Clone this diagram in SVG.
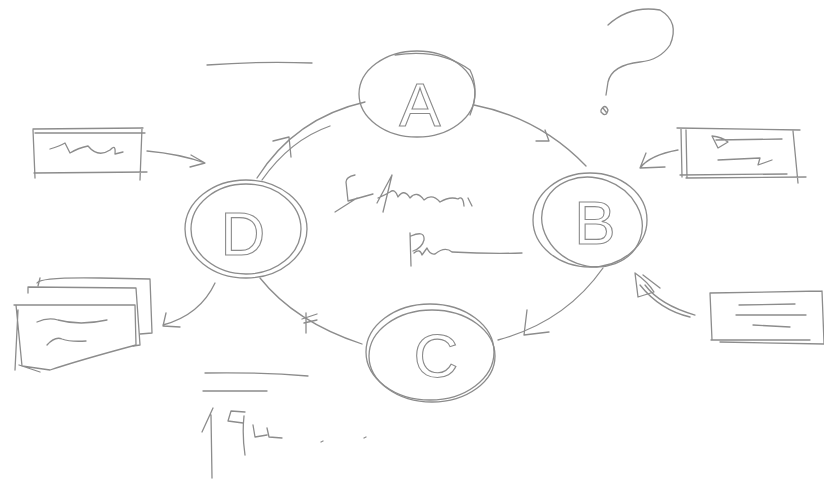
<svg xmlns="http://www.w3.org/2000/svg" width="824" height="481" viewBox="0 0 824 481">
<style>
.s{fill:none;stroke:#8c8c8c;stroke-width:1.3;stroke-linecap:round;stroke-linejoin:round}
.t{fill:none;stroke:#8c8c8c;stroke-width:1.1;font-family:"Liberation Sans",Arial,sans-serif;font-size:62px;text-anchor:middle}
</style>
<rect width="824" height="481" fill="#ffffff"/>
<g id="connectors" class="s">
<path d="M474,105 Q540,118 586,166"/>
<path d="M536,141 L549,141 L545,130"/>
<path d="M603,268 Q565,322 498,340"/>
<path d="M527,310 L524,335 L549,332"/>
<path d="M362,344 Q295,322 260,278"/>
<path d="M306,313 L306,333 M302,319 L317,314 M304,323 L317,320"/>
<path d="M257,178 Q295,118 365,102"/>
<path d="M262,180 Q290,140 330,126"/>
<path d="M273,141 L289,137 L291,157"/>
</g>
<g id="nodeA">
<ellipse class="s" cx="417" cy="94" rx="58" ry="43"/>
<path class="s" d="M395,55 Q440,48 470,70 Q480,90 470,115"/>
<text class="t" x="420" y="126">A</text>
</g>
<g id="nodeB">
<ellipse class="s" cx="590" cy="220" rx="57" ry="47"/>
<ellipse class="s" cx="592" cy="222" rx="51" ry="44" transform="rotate(20 592 222)"/>
<text class="t" x="595" y="244">B</text>
</g>
<g id="nodeC">
<ellipse class="s" cx="430" cy="352" rx="64" ry="48"/>
<ellipse class="s" cx="432" cy="356" rx="63" ry="46"/>
<text class="t" x="436" y="377">C</text>
</g>
<g id="nodeD">
<ellipse class="s" cx="246" cy="229" rx="61" ry="49"/>
<ellipse class="s" cx="246" cy="229" rx="55" ry="45"/>
<text class="t" x="243" y="255">D</text>
</g>
<g id="scribbles" class="s">
<path d="M355,175 Q346,177 346,182 L348,201 L373,194 M335,212 L357,198 M377,203 L392,175 L383,212 M378,198 Q385,195 390,192 Q395,188 398,197 Q404,188 410,198 Q417,190 424,200 Q432,193 440,202 Q450,196 458,199 Q463,195 464,206 M468,198 L472,206"/>
<path d="M410,233 L411,266 M411,236 Q425,230 424,240 Q422,248 413,251 M414,253 Q420,248 422,255 L427,248 Q430,255 435,254 Q445,246 452,252 Q490,254 522,253"/>
<path d="M207,65 Q260,61 312,63"/>
<path d="M205,373 Q260,372 308,376"/>
<path d="M203,391 L267,391"/>
<path d="M202,432 L213,408 M211,415 L212,478"/>
<path d="M243,423 L228,421 L231,411 L245,412 M244,416 Q242,435 245,455 M253,425 L255,437 L267,435 M267,428 L269,437 L282,438"/>
<path d="M321,442 L323,441 M364,438 L366,437"/>
<path d="M608,25 Q630,5 660,10 Q680,22 670,45 Q660,60 640,62 Q612,65 608,82 L606,95"/>
<path d="M601,110 Q605,103 608,110 Q606,118 601,112 Z M603,108 L606,112"/>
</g>
<g id="boxTopLeft" class="s">
<path d="M33,129 L143,128 M35,133 L145,133 M33,130 L35,178 M142,128 L140,180 M34,173 L147,172"/>
<path d="M50,149 Q60,146 65,143 L70,153 Q78,148 88,146 Q98,158 110,150 Q116,143 115,154 L123,152"/>
<path d="M147,151 Q180,154 205,163 M191,155 L205,163 L190,167"/>
</g>
<g id="boxStack" class="s">
<path d="M37,283 Q40,277 100,278 L150,279 L152,333 L140,334"/>
<path d="M40,278 L38,286"/>
<path d="M28,293 L28,287 L136,288 L140,345 L133,346"/>
<path d="M14,305 L135,305 L136,345 Q80,360 50,370 L22,366 L16,305 M18,310 L15,370 M19,365 L40,372"/>
<path d="M37,322 Q48,317 58,320 Q80,326 107,320"/>
<path d="M47,345 Q55,336 62,339 Q70,342 86,341"/>
<path d="M215,283 Q200,315 163,325 M166,313 L163,326 L180,327"/>
</g>
<g id="boxTopRight" class="s">
<path d="M677,128 L800,130 M680,175 L787,174 M686,178 L806,177 M681,129 L682,177 M686,130 L687,178 M793,131 L798,183"/>
<path d="M712,136 L718,148 L728,142 Q722,137 712,136 M716,140 L782,139 M718,160 L760,158 L758,165 L772,160"/>
<path d="M678,150 Q650,155 640,168 L665,167 M640,168 L646,153"/>
</g>
<g id="boxBottomRight" class="s">
<path d="M710,293 L822,291 M710,293 L712,340 M822,291 L824,343 M711,340 L810,340 M720,342 L824,344"/>
<path d="M739,305 L795,304 M736,315 L806,315 M753,325 L790,327"/>
<path d="M695,315 Q660,305 645,285 M690,317 Q660,310 640,285 M635,273 L638,297 L654,292 Q648,282 635,273 M643,275 L660,288"/>
</g>
</svg>
